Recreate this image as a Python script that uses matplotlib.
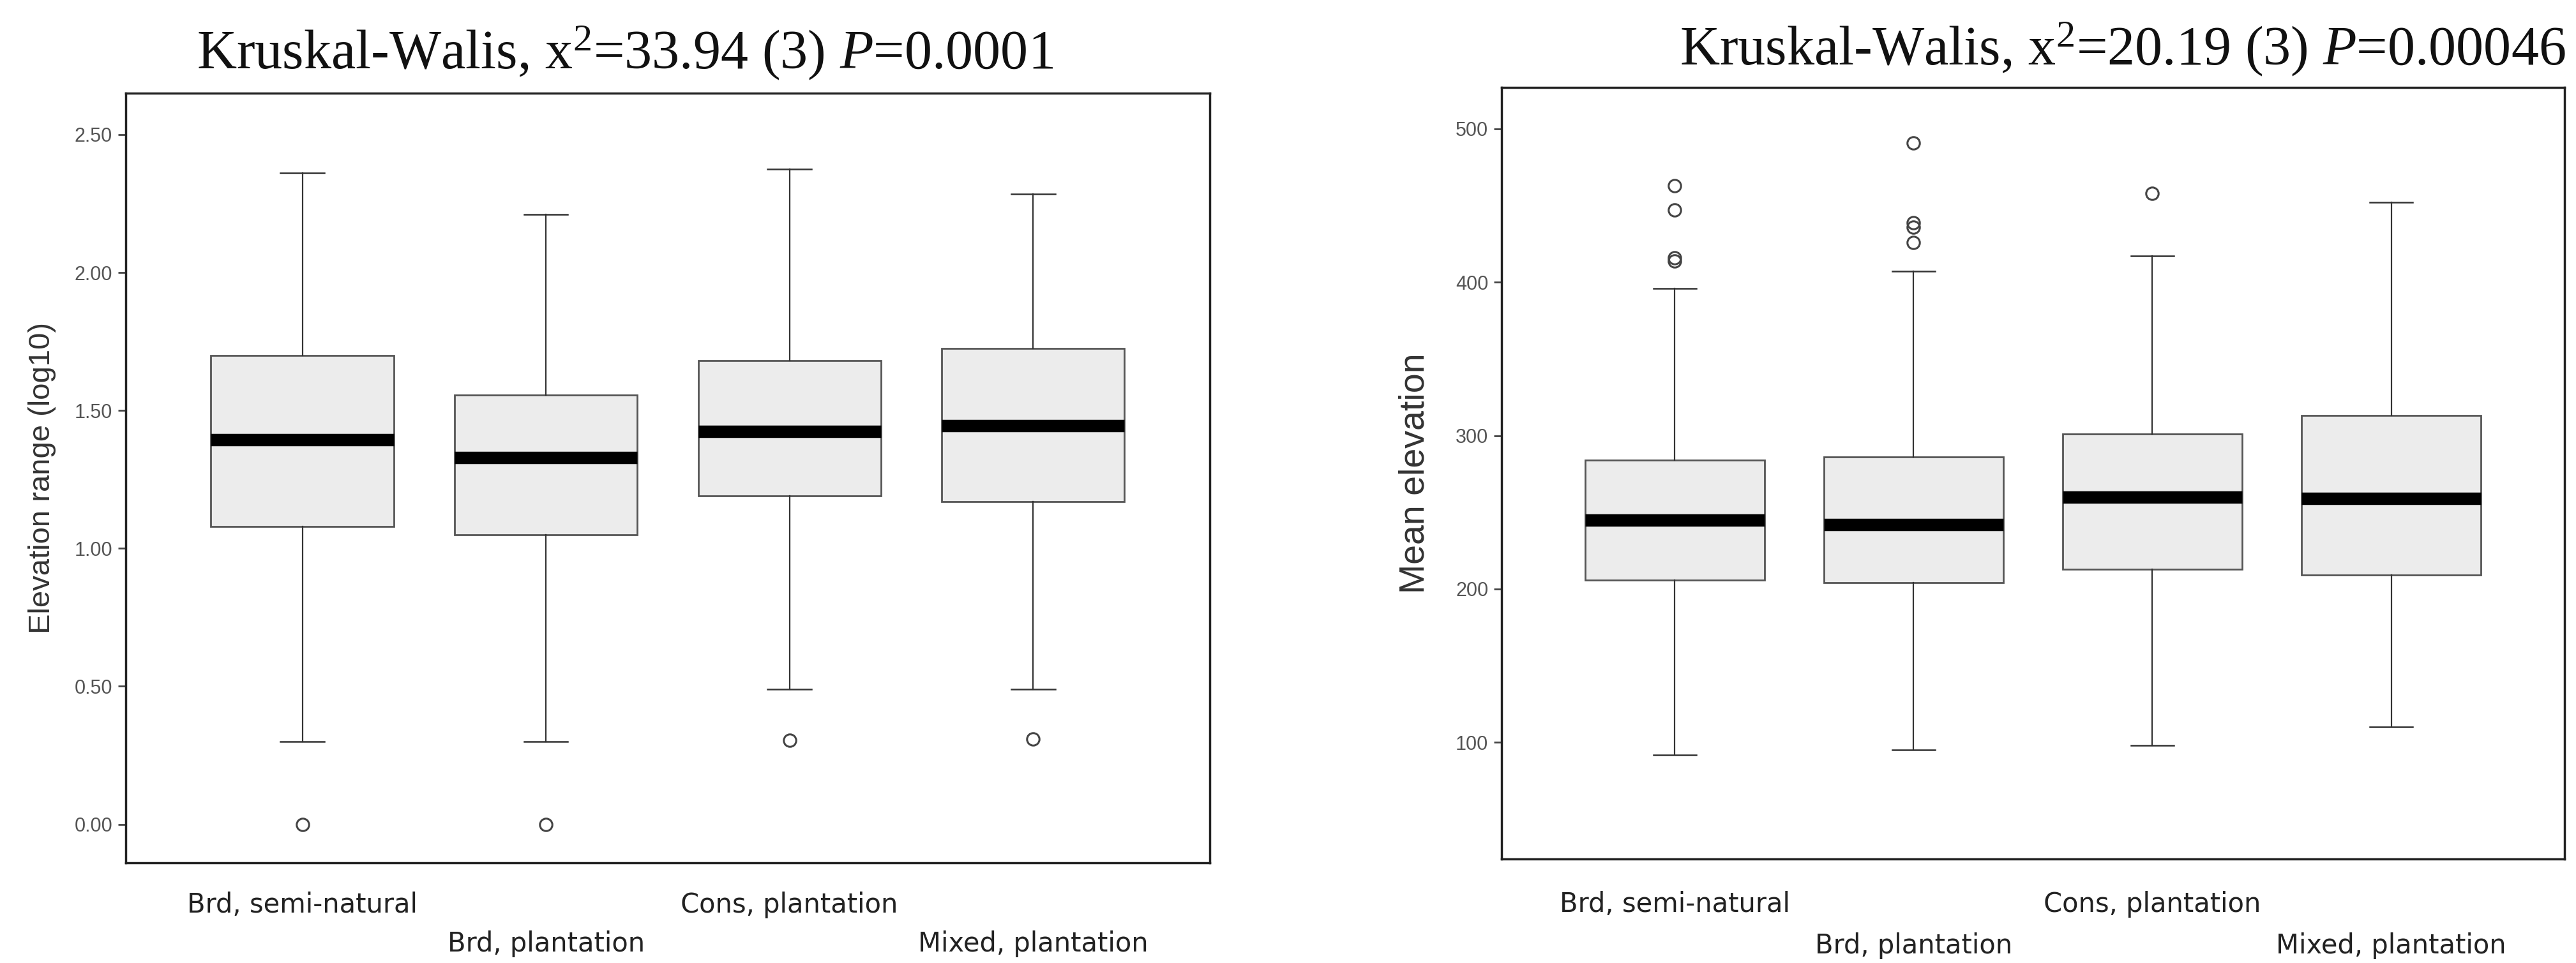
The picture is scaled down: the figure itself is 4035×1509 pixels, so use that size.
import matplotlib
matplotlib.use("Agg")
import matplotlib.pyplot as plt

# group names (same order in both panels)
groups = ["Brd, semi-natural", "Brd, plantation", "Cons, plantation", "Mixed, plantation"]

# left panel: elevation range (log10)
er_q1 = [1.08, 1.05, 1.19, 1.17]
er_med = [1.395, 1.33, 1.425, 1.445]
er_q3 = [1.70, 1.555, 1.68, 1.725]
er_lo = [0.30, 0.30, 0.49, 0.49]
er_hi = [2.36, 2.21, 2.375, 2.285]
er_out = [[0.00], [0.00], [0.305], [0.31]]

# right panel: mean elevation
me_q1 = [206, 204, 213, 209]
me_med = [245, 242, 260, 259]
me_q3 = [284, 286, 301, 313]
me_lo = [92, 95, 98, 110]
me_hi = [396, 407, 417, 452]
me_out = [[463, 447, 416, 414], [491, 439, 436, 426], [458], []]

title_left = r"Kruskal-Walis, x$^{2}$=33.94 (3) $P$=0.0001"
title_right = r"Kruskal-Walis, x$^{2}$=20.19 (3) $P$=0.00046"

plt.rcParams["mathtext.fontset"] = "custom"
plt.rcParams["mathtext.rm"] = "Liberation Serif"
plt.rcParams["mathtext.it"] = "Liberation Serif:italic"


def stats(q1, med, q3, lo, hi, out):
    return [dict(q1=a, med=b, q3=c, whislo=d, whishi=e, fliers=f)
            for a, b, c, d, e, f in zip(q1, med, q3, lo, hi, out)]


def draw(ax, st, ylabel, lab_size, lab_x, yticks, fmt, ylim, pads):
    pos = list(range(1, len(groups) + 1))
    ax.bxp(st, positions=pos, widths=0.75, patch_artist=True, capwidths=0.18,
           boxprops=dict(facecolor="#ececec", edgecolor="#555555", linewidth=2),
           medianprops=dict(color="black", linewidth=14, solid_capstyle="butt"),
           whiskerprops=dict(color="#333333", linewidth=1.6),
           capprops=dict(color="#333333", linewidth=1.8),
           flierprops=dict(marker="o", markersize=14, markerfacecolor="none",
                           markeredgecolor="#444444", markeredgewidth=2.2))
    ax.set_xlim(0.275, 4.725)
    ax.set_ylim(*ylim)
    ax.set_yticks(yticks)
    ax.set_yticklabels([fmt % v for v in yticks], fontsize=22, color="#555555",
                       family="Liberation Sans")
    ax.tick_params(axis="y", length=9, width=2, color="#444444", pad=6)
    ax.set_xticks(pos)
    ax.set_xticklabels(groups, fontsize=30, color="#222222", family="DejaVu Sans")
    ax.tick_params(axis="x", length=0)
    for i, t in enumerate(ax.xaxis.get_major_ticks()):
        t.set_pad(pads[i % 2])
    for s in ax.spines.values():
        s.set_linewidth(2.5)
        s.set_color("#222222")
    ax.set_ylabel(ylabel, fontsize=lab_size, color="#333333", family="Liberation Sans")
    ax.yaxis.set_label_coords(lab_x, 0.5)


fig = plt.figure(figsize=(40.35, 15.09), dpi=100)
ax1 = fig.add_axes([0.0488, 0.1040, 0.4208, 0.7992])
ax2 = fig.add_axes([0.5829, 0.1080, 0.4126, 0.8012])

draw(ax1, stats(er_q1, er_med, er_q3, er_lo, er_hi, er_out),
     "Elevation range (log10)", 34, -0.064,
     [0.0, 0.5, 1.0, 1.5, 2.0, 2.5], "%.2f", (-0.14, 2.65), (32, 76))
draw(ax2, stats(me_q1, me_med, me_q3, me_lo, me_hi, me_out),
     "Mean elevation", 40, -0.0655,
     [100, 200, 300, 400, 500], "%d", (24, 527), (36, 83))

fig.text(308 / 4035, 1 - 107 / 1509, title_left, fontsize=62,
         family="Liberation Serif", ha="left", va="baseline", color="#111111")
fig.text(2631 / 4035, 1 - 101 / 1509, title_right, fontsize=62,
         family="Liberation Serif", ha="left", va="baseline", color="#111111")

fig.savefig("out.png", dpi=100, facecolor="white")
